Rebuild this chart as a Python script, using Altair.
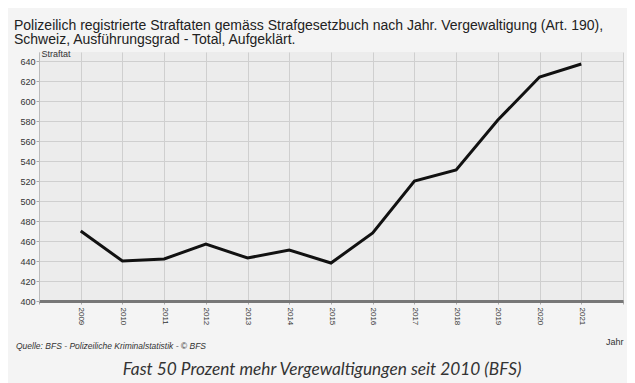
import altair as alt
import pandas as pd

years = [2009, 2010, 2011, 2012, 2013, 2014, 2015, 2016, 2017, 2018, 2019, 2020, 2021]
values = [470, 440, 442, 457, 443, 451, 438, 468, 520, 531, 581, 624, 637]
y_ticks = [400, 420, 440, 460, 480, 500, 520, 540, 560, 580, 600, 620, 640]
x_grid = list(range(2008, 2023))

title_lines = [
    "Polizeilich registrierte Straftaten gemäss Strafgesetzbuch nach Jahr. Vergewaltigung (Art. 190),",
    "Schweiz, Ausführungsgrad - Total, Aufgeklärt.",
]
source_text = "Quelle: BFS - Polizeiliche Kriminalstatistik - © BFS"
caption_text = "Fast 50 Prozent mehr Vergewaltigungen seit 2010 (BFS)"

df = pd.DataFrame({"Jahr": years, "Straftat": values})

W, H = 584, 249

x_enc = alt.X(
    "Jahr:Q",
    scale=alt.Scale(domain=[2008, 2022], nice=False, zero=False),
    axis=alt.Axis(
        values=x_grid,
        labelExpr="datum.value == 2008 || datum.value == 2022 ? '' : datum.value",
        labelAngle=90,
        labelAlign="left",
        labelBaseline="middle",
        labelFontSize=8,
        labelColor="#333333",
        labelPadding=3,
        tickSize=3,
        tickColor="#aaaaaa",
        domainColor="#777777",
        domainWidth=3,
        gridColor="#cfcfcf",
        gridWidth=1,
        title="Jahr",
        titleFontSize=9,
        titleFontWeight="normal",
        titleColor="#333333",
        titleX=W,
        titleY=45,
        titleAlign="right",
        titleBaseline="bottom",
    ),
)
y_enc = alt.Y(
    "Straftat:Q",
    scale=alt.Scale(domain=[400, 649], nice=False, zero=False),
    axis=alt.Axis(
        values=y_ticks,
        labelFontSize=9,
        labelColor="#333333",
        labelPadding=1,
        tickSize=3,
        tickColor="#aaaaaa",
        domainColor="#bbbbbb",
        domainWidth=1,
        gridColor="#cfcfcf",
        gridWidth=1,
        title="Straftat",
        titleAngle=0,
        titleFontSize=9,
        titleFontWeight="normal",
        titleColor="#333333",
        titleX=2,
        titleY=6,
        titleAlign="left",
        titleBaseline="bottom",
    ),
)

line = alt.Chart(df).mark_line(color="#111111", strokeWidth=3).encode(x=x_enc, y=y_enc)

source = alt.Chart(pd.DataFrame({"t": [source_text]})).mark_text(
    align="left", baseline="middle", font="Liberation Sans", fontStyle="italic",
    fontSize=8.5, color="#333333",
).encode(x=alt.value(-23), y=alt.value(294), text="t:N")

caption = alt.Chart(pd.DataFrame({"t": [caption_text]})).mark_text(
    align="center", baseline="middle", font="Lato", fontStyle="italic",
    fontSize=17.3, color="#333333",
).encode(x=alt.value(283), y=alt.value(318), text="t:N")

chart = (
    alt.layer(line, source, caption)
    .properties(
        width=W,
        height=H,
        background="#f4f4f4",
        padding={"left": 31, "top": 44, "right": 4, "bottom": 82},
        autosize=alt.AutoSizeParams(type="none"),
        title=alt.TitleParams(
            text=title_lines,
            anchor="start",
            frame="group",
            dx=-25,
            dy=12,
            offset=14,
            font="Liberation Sans",
            fontSize=14,
            fontWeight="normal",
            color="#222222",
            lineHeight=14.5,
        ),
    )
    .configure_view(fill="#ececec", stroke=None)
    .configure_axis(labelFont="Liberation Sans", titleFont="Liberation Sans")
)

chart.save("out.html", embed_options={"renderer": "svg", "actions": False})
